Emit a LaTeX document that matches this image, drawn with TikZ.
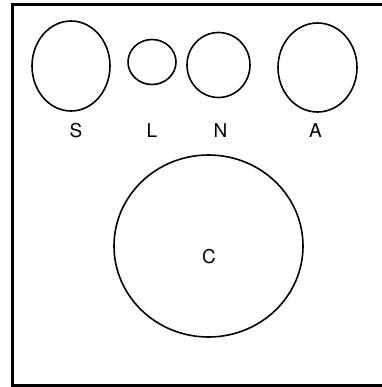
\documentclass[tikz,border=0pt]{standalone}
\usepackage{fontspec}
\setmainfont{TeX Gyre Heros}
\usepackage{tikz}
\usetikzlibrary{shapes.geometric}

\begin{document}
\begin{tikzpicture}[
    x=1pt,y=-1pt,
    blob/.style={draw,ellipse,line width=1.6pt,inner sep=0pt},
    lbl/.style={font=\fontsize{19}{20}\selectfont,inner sep=0pt},
    frame/.style={line width=3pt}
  ]
    \useasboundingbox (0,0) rectangle (381,387);
    % open frame
    \coordinate (tr) at (383,5);
    \coordinate (tl) at (12.5,5);
    \coordinate (bl) at (12.5,385.5);
    \coordinate (br) at (383,385.5);
    \draw[frame] (tr) -- (tl) -- (bl) -- (br);
    % top row
    \node[blob,minimum width=78pt,minimum height=90pt] (S) at (71,66) {};
    \node[blob,minimum width=48pt,minimum height=45pt] (L) at (152,62) {};
    \node[blob,minimum width=63pt,minimum height=65pt] (N) at (218.5,65) {};
    \node[blob,minimum width=79pt,minimum height=89pt] (A) at (317.5,67.5) {};
    \node[lbl] (sl) at (76,131) {S};
    \node[lbl] (ll) at (152,131) {L};
    \node[lbl] (nl) at (220.5,131) {N};
    \node[lbl] (al) at (315.5,131) {A};
    % big one
    \node[blob,minimum width=189pt,minimum height=182pt] (C) at (208.5,246) {};
    \node[lbl] (cl) at (209,257) {C};
  \end{tikzpicture}
\end{document}
